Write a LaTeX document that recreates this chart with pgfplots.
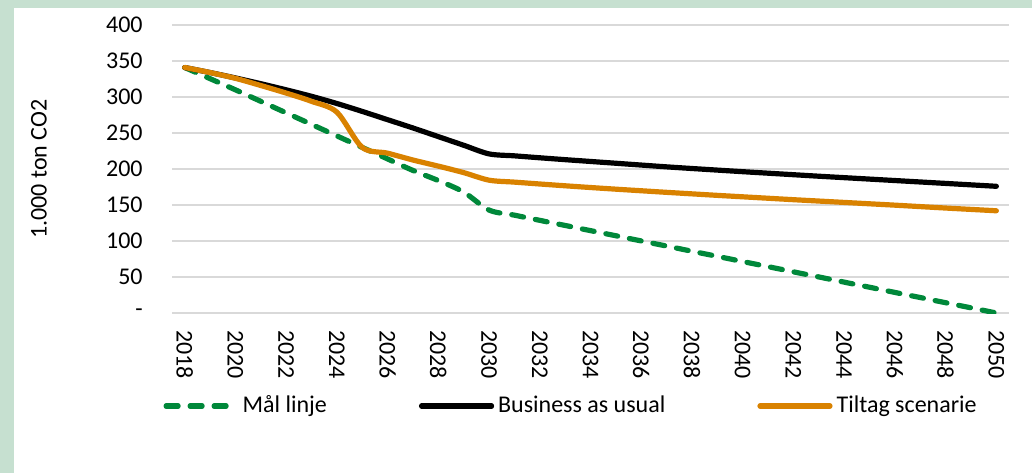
\documentclass[border=0pt]{standalone}
\usepackage{fontspec}
\setmainfont{Carlito}
\usepackage{pgfplots}
\pgfplotsset{compat=1.18}
\definecolor{framegreen}{RGB}{198,224,208}
\definecolor{mgreen}{RGB}{0,136,58}
\definecolor{morange}{RGB}{217,130,0}
\definecolor{gridgray}{RGB}{217,217,217}
\begin{document}
\fontsize{12}{14.4}\selectfont
\begin{tikzpicture}
\fill[framegreen] (-86pt,-80pt) rectangle (430pt,156.5pt);
\fill[white] (-79pt,-80pt) rectangle (430pt,152.5pt);
\begin{axis}[
  scale only axis, width=418.5pt, height=144pt,
  xmin=2017.5, xmax=2050.5, ymin=0, ymax=400,
  axis line style={draw=none},
  xtick={2018,2020,...,2050},
  ytick={0,50,...,400},
  yticklabels={-,50,100,150,200,250,300,350,400},
  major tick length=0pt,
  ymajorgrids, grid style={gridgray, line width=1pt},
  /pgf/number format/assume math mode=true,
  /pgf/number format/1000 sep={},
  xticklabel style={rotate=-90, anchor=west, inner sep=0pt},
  xticklabel shift=8.5pt,
  yticklabel style={anchor=east, inner sep=0pt},
  yticklabel shift=14.5pt,
  legend columns=3,
  legend style={draw=none, fill=none, at={(0.478,-0.323)}, anchor=center,
    /tikz/every even column/.append style={column sep=44pt}},
  legend image code/.code={\draw[#1] (0pt,0pt) -- (35pt,0pt);},
  every axis plot/.append style={line width=2.6pt, line cap=round, line join=round},
]
\addplot[mgreen, dash pattern=on 6pt off 6pt, smooth, tension=0.5] coordinates {
(2018,341) (2019,325.5) (2020,310) (2021,294) (2022,278) (2023,262) (2024,246)
(2025,230) (2026,214) (2027,198) (2028,184) (2029,168) (2030,143) (2031,135.9)
(2032,128.7) (2033,121.6) (2034,114.4) (2035,107.3) (2036,100.1) (2037,93.0)
(2038,85.8) (2039,78.7) (2040,71.5) (2041,64.4) (2042,57.2) (2043,50.1)
(2044,42.9) (2045,35.8) (2046,28.6) (2047,21.5) (2048,14.3) (2049,7.2) (2050,0)
};
\addlegendentry{Mål linje}
\addplot[black, smooth, tension=0.5] coordinates {
(2018,341) (2019,334) (2020,326.5) (2021,318.5) (2022,310) (2023,301) (2024,291)
(2025,280) (2026,268.5) (2027,257) (2028,245) (2029,233) (2030,221) (2031,218.3)
(2032,215.6) (2033,213) (2034,210.5) (2035,208) (2036,205.5) (2037,203)
(2038,200.7) (2039,198.5) (2040,196.3) (2041,194.2) (2042,192.1) (2043,190)
(2044,188) (2045,186) (2046,184) (2047,182) (2048,180) (2049,178) (2050,176)
};
\addlegendentry{Business as usual}
\addplot[morange, smooth, tension=0.5] coordinates {
(2018,341) (2019,334) (2020,326) (2021,316) (2022,305.5) (2023,294) (2024,279)
(2025,230) (2026,222) (2027,212.5) (2028,204) (2029,195) (2030,184.5) (2031,181.8)
(2032,179.2) (2033,176.7) (2034,174.3) (2035,172) (2036,169.8) (2037,167.6)
(2038,165.5) (2039,163.4) (2040,161.4) (2041,159.4) (2042,157.4) (2043,155.5)
(2044,153.6) (2045,151.7) (2046,149.8) (2047,147.8) (2048,145.8) (2049,143.9) (2050,142)
};
\addlegendentry{Tiltag scenarie}
\end{axis}
\node[rotate=90] at (-66.5pt,72pt) {1.000 ton CO2};
\pgfresetboundingbox
\useasboundingbox (-86pt,-80pt) rectangle (430pt,156.5pt);
\end{tikzpicture}
\end{document}
